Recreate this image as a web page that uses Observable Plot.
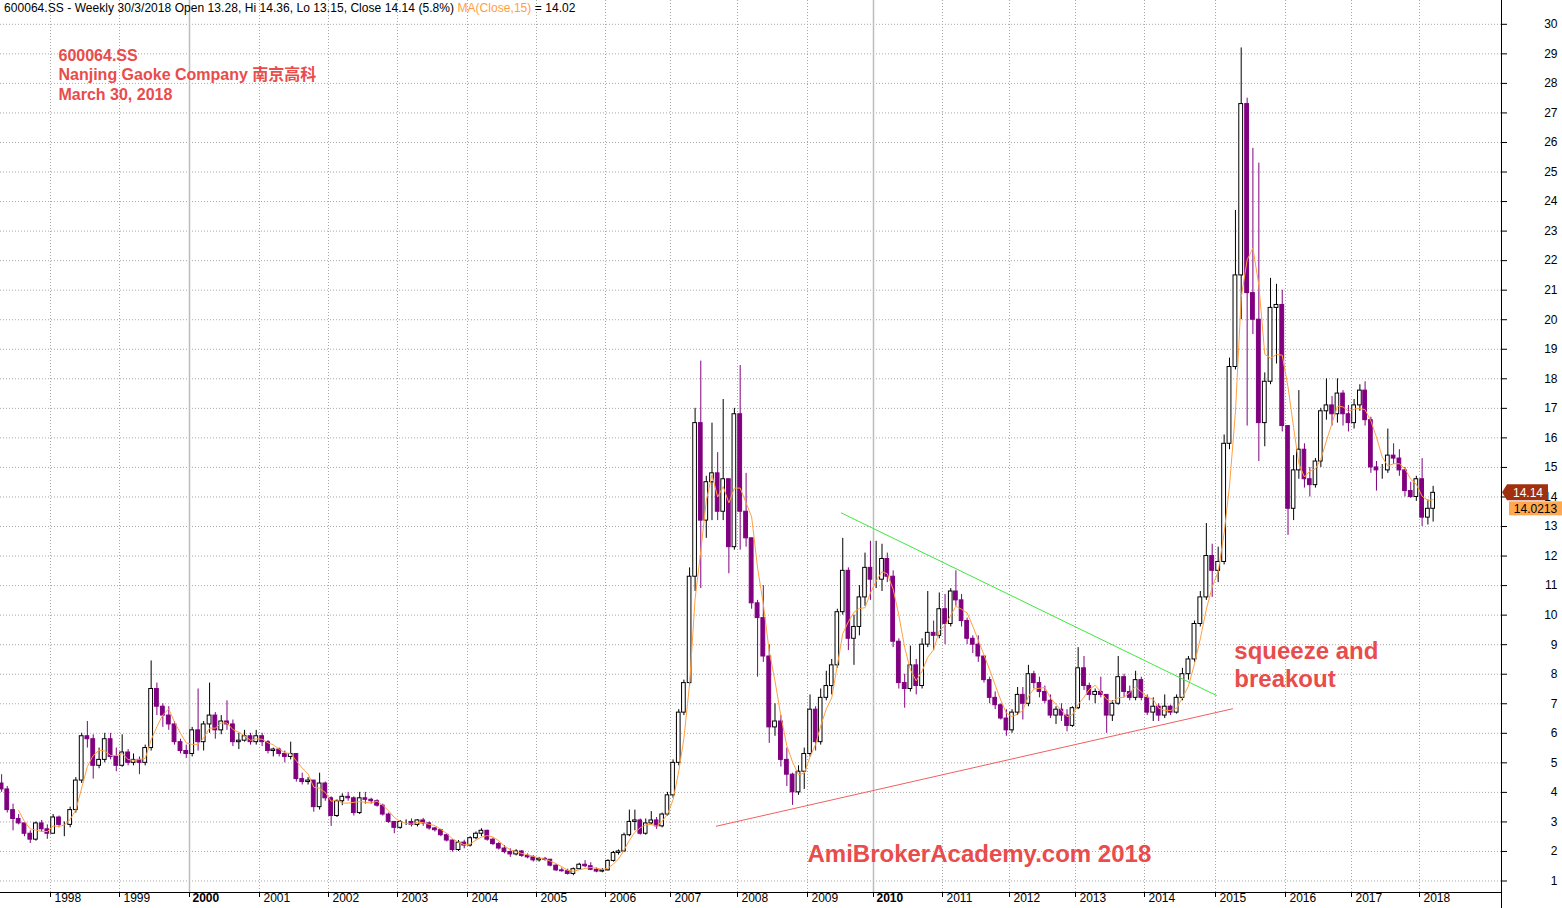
<!DOCTYPE html>
<html><head><meta charset="utf-8">
<script src="https://cdn.jsdelivr.net/npm/d3@7"></script>
<script src="https://cdn.jsdelivr.net/npm/@observablehq/plot@0.6"></script>
<style>
html,body{margin:0;padding:0;background:#fff;overflow:hidden;}
#wrap{position:relative;width:1562px;height:908px;overflow:hidden;}
#hdr{position:absolute;left:4px;top:1px;font:12px/14px "Liberation Sans",Arial,sans-serif;color:#000;white-space:nowrap;letter-spacing:0.05px;}
#hdr .ma{color:#ffa040;}
</style></head><body>
<div id="wrap"><div id="hdr"></div></div>
<script>
// ---------------- DATA (monthly candles: [open, high, low, close]) ----------------
const symbol = "600064.SS";
const firstYear = 1997, firstMonth = 3; // April 1997 (0-based month)
const ohlc1997 = [[4.3,4.6,4.0,4.1],[4.1,4.2,3.3,3.4],[3.4,3.6,2.7,3.1],[3.1,3.25,2.9,2.95],[2.95,2.95,2.5,2.6],[2.6,2.7,2.27,2.4],[2.4,3.0,2.35,2.95],[2.95,3.05,2.65,2.75],[2.75,2.9,2.41,2.6]];
const ohlc1998 = [[2.6,3.25,2.6,3.15],[3.15,3.2,2.8,2.9],[2.9,3.0,2.5,2.9],[2.9,3.5,2.8,3.4],[3.4,4.5,3.3,4.4],[4.4,6.0,4.3,5.9],[5.9,6.4,5.5,5.8],[5.8,5.95,4.45,4.9],[4.9,5.5,4.8,5.1],[5.1,6.0,5.0,5.8],[5.8,6.0,5.1,5.2],[5.2,5.5,4.7,4.9]];
const ohlc1999 = [[4.9,5.95,4.85,5.35],[5.35,5.45,4.9,5.0],[5.0,5.3,4.9,5.1],[5.1,5.2,4.6,5.0],[5.0,5.6,4.9,5.5],[5.5,8.45,5.4,7.5],[7.5,7.7,6.6,6.9],[6.9,7.0,6.2,6.6],[6.6,6.9,6.1,6.3],[6.3,6.4,5.6,5.7],[5.7,5.8,5.3,5.4],[5.4,5.6,5.15,5.3]];
const ohlc2000 = [[5.3,6.2,5.2,6.1],[6.1,7.5,5.4,5.7],[5.7,6.4,5.4,6.3],[6.3,7.7,6.0,6.6],[6.6,6.7,5.8,6.1],[6.1,6.6,5.95,6.4],[6.4,7.1,6.1,6.3],[6.3,6.45,5.55,5.7],[5.7,6.0,5.45,5.75],[5.75,6.1,5.7,5.9],[5.9,6.0,5.6,5.7],[5.7,6.1,5.6,5.9]];
const ohlc2001 = [[5.9,6.0,5.55,5.7],[5.7,5.75,5.3,5.4],[5.4,5.5,5.2,5.45],[5.45,5.5,5.2,5.3],[5.3,5.4,5.0,5.2],[5.2,5.7,5.1,5.3],[5.3,5.3,4.35,4.45],[4.45,4.65,4.25,4.35],[4.35,4.5,4.25,4.4],[4.4,4.4,3.33,3.5],[3.5,4.65,3.4,4.3],[4.3,4.35,3.7,3.8]];
const ohlc2002 = [[3.8,3.85,2.85,3.2],[3.2,3.75,3.15,3.7],[3.7,3.95,3.55,3.85],[3.85,4.0,3.7,3.8],[3.8,3.85,3.2,3.3],[3.3,4.0,3.25,3.8],[3.8,4.0,3.6,3.75],[3.75,3.8,3.6,3.7],[3.7,3.75,3.5,3.55],[3.55,3.6,3.2,3.25],[3.25,3.3,2.95,3.0],[3.0,3.0,2.6,2.8]];
const ohlc2003 = [[2.8,3.05,2.75,3.0],[3.0,3.07,2.88,3.0],[3.0,3.1,2.83,2.9],[2.9,3.08,2.83,3.05],[3.05,3.12,2.85,2.95],[2.95,3.0,2.72,2.78],[2.78,2.82,2.66,2.72],[2.72,2.75,2.5,2.55],[2.55,2.6,2.32,2.37],[2.37,2.4,1.98,2.05],[2.05,2.37,2.0,2.3],[2.3,2.38,2.09,2.2]];
const ohlc2004 = [[2.2,2.5,2.15,2.45],[2.45,2.66,2.4,2.6],[2.6,2.77,2.5,2.7],[2.7,2.72,2.35,2.4],[2.4,2.45,2.2,2.25],[2.25,2.3,2.05,2.1],[2.1,2.2,1.92,1.98],[1.98,2.09,1.8,1.9],[1.9,2.06,1.85,2.0],[2.0,2.03,1.8,1.85],[1.85,1.92,1.75,1.8],[1.8,1.86,1.64,1.7]];
const ohlc2005 = [[1.7,1.8,1.64,1.75],[1.75,1.8,1.67,1.72],[1.72,1.73,1.48,1.52],[1.52,1.55,1.32,1.36],[1.36,1.44,1.3,1.33],[1.33,1.4,1.2,1.24],[1.24,1.44,1.18,1.4],[1.4,1.6,1.38,1.55],[1.55,1.69,1.45,1.5],[1.5,1.62,1.35,1.38],[1.38,1.44,1.28,1.32],[1.32,1.42,1.28,1.36]];
const ohlc2006 = [[1.36,1.72,1.34,1.68],[1.68,2.0,1.64,1.95],[1.95,2.05,1.88,2.0],[2.0,2.62,1.98,2.55],[2.55,3.4,2.5,3.0],[3.0,3.4,2.7,3.05],[3.05,3.1,2.55,2.6],[2.6,3.1,2.55,2.95],[2.95,3.35,2.9,3.05],[3.05,3.15,2.75,2.85],[2.85,3.3,2.8,3.25],[3.25,4.0,3.2,3.9]];
const ohlc2007 = [[3.9,5.1,3.8,5.0],[5.0,6.8,4.9,6.7],[6.7,7.8,6.6,7.7],[7.7,11.6,7.6,11.3],[11.3,17.0,10.8,16.5],[16.5,18.6,10.9,13.2],[13.2,14.7,12.6,14.5],[14.5,16.5,13.2,14.8],[14.8,15.5,13.2,13.5],[13.5,17.3,13.2,14.6],[14.6,14.6,11.4,12.3],[12.3,17.0,12.2,16.8]];
const ohlc2008 = [[16.8,18.45,12.2,13.5],[13.5,14.8,12.3,12.6],[12.6,12.6,10.2,10.4],[10.4,10.5,7.9,9.9],[9.9,11.0,8.4,8.6],[8.6,9.0,5.66,6.2],[6.2,7.0,5.9,6.4],[6.4,6.6,4.86,5.1],[5.1,5.5,4.2,4.6],[4.6,4.65,3.56,4.0],[4.0,4.9,3.9,4.7],[4.7,5.5,4.1,5.3]];
const ohlc2009 = [[5.3,7.3,5.2,6.8],[6.8,6.9,5.4,5.7],[5.7,7.5,5.6,7.2],[7.2,8.1,7.1,7.6],[7.6,8.5,7.3,8.3],[8.3,10.2,8.2,10.1],[10.1,12.6,10.0,11.5],[11.5,11.6,8.8,9.2],[9.2,10.0,8.3,9.6],[9.6,11.0,9.3,10.6],[10.6,12.1,10.3,11.6],[11.6,12.5,10.5,11.2]];
const ohlc2010 = [[11.2,12.5,10.9,11.2],[11.2,12.4,10.8,11.9],[11.9,12.1,11.1,11.3],[11.3,11.5,8.9,9.1],[9.1,9.2,7.5,7.7],[7.7,8.0,6.85,7.5],[7.5,8.95,7.4,8.3],[8.3,8.5,7.3,7.6],[7.6,9.2,7.5,9.0],[9.0,10.8,8.9,9.4],[9.4,9.8,8.8,9.3],[9.3,10.75,9.2,10.2]];
const ohlc2011 = [[10.2,10.7,9.0,9.7],[9.7,10.9,9.6,10.8],[10.8,11.5,10.3,10.5],[10.5,10.7,9.6,9.8],[9.8,9.9,9.0,9.2],[9.2,9.3,8.7,9.0],[9.0,9.3,8.4,8.6],[8.6,8.6,7.7,7.8],[7.8,7.9,7.0,7.2],[7.2,7.4,6.8,6.95],[6.95,7.0,6.45,6.5],[6.5,6.8,5.9,6.1]];
const ohlc2012 = [[6.1,6.8,6.0,6.7],[6.7,7.55,6.6,7.3],[7.3,7.55,6.45,7.0],[7.0,8.3,6.9,8.0],[8.0,8.1,7.5,7.7],[7.7,7.9,7.2,7.4],[7.4,7.6,7.0,7.1],[7.1,7.3,6.5,6.6],[6.6,6.9,6.3,6.8],[6.8,7.0,6.4,6.6],[6.6,6.8,6.05,6.25],[6.25,6.9,6.2,6.85]];
const ohlc2013 = [[6.85,8.9,6.8,8.2],[8.2,8.6,7.45,7.6],[7.6,7.7,7.1,7.3],[7.3,7.5,7.0,7.4],[7.4,7.9,7.2,7.3],[7.3,7.3,6.0,6.6],[6.6,7.1,6.4,7.0],[7.0,8.6,6.95,7.9],[7.9,8.0,7.2,7.4],[7.4,7.6,7.1,7.2],[7.2,8.1,7.1,7.8],[7.8,7.9,7.1,7.2]];
const ohlc2014 = [[7.2,7.3,6.6,6.7],[6.7,7.2,6.4,6.9],[6.9,7.0,6.4,6.6],[6.6,7.3,6.5,6.9],[6.9,6.95,6.6,6.7],[6.7,7.3,6.65,7.2],[7.2,8.2,7.1,8.0],[8.0,8.6,7.8,8.5],[8.5,9.8,8.4,9.7],[9.7,10.8,9.6,10.6],[10.6,13.1,10.5,12.0],[12.0,12.4,10.6,11.5]];
const ohlc2015 = [[11.5,12.3,11.1,11.8],[11.8,16.1,11.7,15.8],[15.8,18.7,15.6,18.4],[18.4,23.7,18.3,21.5],[21.5,29.2,20.0,27.3],[27.3,27.5,16.4,20.9],[20.9,25.8,19.5,20.0],[20.0,25.3,15.2,16.5],[16.5,18.2,15.7,17.9],[17.9,21.4,17.8,20.4],[20.4,21.2,18.5,20.5],[20.5,21.0,16.2,16.4]];
const ohlc2016 = [[16.4,16.4,12.7,13.6],[13.6,15.4,13.2,14.9],[14.9,17.6,14.6,15.6],[15.6,15.8,14.3,14.6],[14.6,15.0,14.0,14.4],[14.4,15.3,14.3,15.2],[15.2,17.0,15.0,16.9],[16.9,18.0,16.6,17.1],[17.1,17.4,16.4,16.8],[16.8,18.0,16.5,17.5],[17.5,17.6,16.4,16.8],[16.8,17.1,16.2,16.5]];
const ohlc2017 = [[16.5,17.3,16.3,17.1],[17.1,17.8,16.9,17.6],[17.6,17.9,16.4,16.6],[16.6,16.7,14.8,15.0],[15.0,15.2,14.2,14.9],[14.9,15.1,14.6,14.9],[14.9,16.3,14.8,15.4],[15.4,15.8,15.1,15.3],[15.3,15.6,14.7,14.9],[14.9,15.0,14.0,14.2],[14.2,14.5,13.95,14.0],[14.0,14.7,13.85,14.6]];
const ohlc2018 = [[14.6,15.3,13.0,13.3],[13.3,13.9,13.05,13.6],[13.6,14.36,13.15,14.14]];

// last weekly bar and indicator value shown in the header and price tags
const lastWeek = {date: "30/3/2018", open: 13.28, high: 14.36, low: 13.15, close: 14.14, change: 5.8};
const maLast = 14.0213;

// trend lines (date, price)
const greenLine = [{date: "2009-07-07", value: 13.46}, {date: "2015-01-06", value: 7.28}];
const redLine = [{date: "2007-09-08", value: 2.855}, {date: "2015-03-31", value: 6.83}];

// text
const titleLines = ["600064.SS", "Nanjing Gaoke Company 南京高科", "March 30, 2018"];
const notes = [
  {date: "2015-04-09", value: 8.33, label: "squeeze and\nbreakout"},
  {date: "2009-01-01", value: 1.94, label: "AmiBrokerAcademy.com 2018"}
];
const yTicks = d3.range(1, 31);
const tickYears = d3.range(1998, 2019);
const boldYears = [2000, 2010];

// ---------------- LAYOUT / STYLE ----------------
const W = 1562, H = 908;
const FONT = '"Liberation Sans", Arial, "Noto Sans CJK SC", sans-serif';
const PURPLE = "#800080", ORANGE = "#ffa040", RED = "#e84c4c", GRID = "#a8a8a8";
// AmiBroker places year starts at these pixels (bars are evenly spaced)
const tickPx = [50,119,189,259,328,397,467,536,605,670,737,807,873,942,1009,1075,1144,1215,1285,1351,1419];
const yearDate = y => new Date(Date.UTC(y, 0, 1));
const xDomain = [new Date(Date.UTC(1997,3,9)), ...tickYears.map(yearDate), new Date(Date.UTC(2019,2,16))];
const xRange = [0, ...tickPx, 1501];

// ---------------- BUILD ----------------
const candles = [ohlc1997,ohlc1998,ohlc1999,ohlc2000,ohlc2001,ohlc2002,ohlc2003,ohlc2004,ohlc2005,ohlc2006,ohlc2007,ohlc2008,ohlc2009,ohlc2010,ohlc2011,ohlc2012,ohlc2013,ohlc2014,ohlc2015,ohlc2016,ohlc2017,ohlc2018]
  .flat()
  .map(([open, high, low, close], i) => ({date: new Date(Date.UTC(firstYear, firstMonth + i, 15)), open, high, low, close}));
const up = candles.filter(d => d.close >= d.open);
const down = candles.filter(d => d.close < d.open);
const DAY = 864e5, HALF = 10 * DAY;
const parse = s => new Date(s + "T00:00:00Z");
greenLine.forEach(d => d.date = parse(d.date));
redLine.forEach(d => d.date = parse(d.date));
notes.forEach(d => d.date = parse(d.date));

const normalYearDates = tickYears.filter(y => !boldYears.includes(y)).map(yearDate);
const boldYearDates = boldYears.map(yearDate);

function chrome(index, scales, values, dims) {
  const g = d3.create("svg:g").attr("font-family", FONT).attr("font-size", 12);
  const xr = dims.width - dims.marginRight;
  const yb = dims.height - dims.marginBottom;
  g.append("line").attr("x1", 0).attr("x2", xr).attr("y1", yb + 0.5).attr("y2", yb + 0.5).attr("stroke", "#000");
  g.append("line").attr("x1", xr + 0.5).attr("x2", xr + 0.5).attr("y1", 0).attr("y2", dims.height).attr("stroke", "#000");
  const yc = scales.y(lastWeek.close);
  g.append("path").attr("d", `M${xr + 1},${yc} L${xr + 6},${yc - 8} H${xr + 47} V${yc + 8} H${xr + 6} Z`).attr("fill", "#a0300f");
  g.append("text").attr("x", xr + 27).attr("y", yc).attr("dy", "0.35em").attr("text-anchor", "middle").attr("fill", "#fff").text(lastWeek.close.toFixed(2));
  const ym = Math.max(scales.y(maLast), yc + 16);
  g.append("rect").attr("x", xr + 8).attr("y", ym - 7).attr("width", 54).attr("height", 14).attr("fill", "#ffa850");
  g.append("text").attr("x", xr + 34.5).attr("y", ym).attr("dy", "0.35em").attr("text-anchor", "middle").attr("fill", "#000").text(maLast.toFixed(4));
  return g.node();
}

const chart = Plot.plot({
  width: W, height: H,
  marginLeft: 0, marginRight: 61, marginTop: 0, marginBottom: 16,
  style: {fontFamily: FONT, fontSize: "12px", background: "#fff", overflow: "visible"},
  x: {type: "utc", domain: xDomain, range: xRange, axis: null, label: null},
  y: {type: "linear", domain: [0.611, 30.806], axis: null, label: null},
  marks: [
    Plot.ruleY(yTicks, {y: d => d, stroke: GRID, strokeDasharray: "1,2"}),
    Plot.ruleX(normalYearDates, {x: d => d, stroke: GRID, strokeDasharray: "1,2"}),
    Plot.ruleX(boldYearDates, {x: d => d, stroke: "#bdbdbd", strokeWidth: 1.5}),
    Plot.ruleX(up, {x: "date", y1: "low", y2: "high", stroke: "#000"}),
    Plot.ruleX(down, {x: "date", y1: "low", y2: "high", stroke: PURPLE}),
    Plot.rect(up, {x1: d => new Date(+d.date - HALF), x2: d => new Date(+d.date + HALF), y1: "open", y2: "close", fill: "#fff", stroke: "#000"}),
    Plot.rect(down, {x1: d => new Date(+d.date - HALF), x2: d => new Date(+d.date + HALF), y1: "open", y2: "close", fill: PURPLE, stroke: PURPLE}),
    Plot.lineY(candles, Plot.windowY({k: 4, anchor: "end", strict: true}, {x: "date", y: "close", stroke: ORANGE, strokeWidth: 1})),
    Plot.line(greenLine, {x: "date", y: "value", stroke: "#3ee83e", strokeWidth: 1}),
    Plot.line(redLine, {x: "date", y: "value", stroke: "#f06060", strokeWidth: 1}),
    Plot.axisX(tickYears.map(yearDate), {anchor: "bottom", tickSize: 5, tickFormat: () => "", label: null, stroke: "#000"}),
    Plot.axisY(yTicks, {anchor: "right", tickSize: 5, tickFormat: () => "", label: null, stroke: "#000"}),
    Plot.text(normalYearDates, {x: d => d, text: d => String(d.getUTCFullYear()), frameAnchor: "bottom", dy: 9, dx: 4, textAnchor: "start", fontSize: 12, fill: "#000"}),
    Plot.text(boldYearDates, {x: d => d, text: d => String(d.getUTCFullYear()), frameAnchor: "bottom", dy: 9, dx: 3, textAnchor: "start", fontSize: 12, fontWeight: "bold", fill: "#000"}),
    Plot.text(yTicks, {y: d => d, text: d => String(d), frameAnchor: "right", dx: 56, textAnchor: "end", fontSize: 12, fill: "#000"}),
    Plot.text([titleLines.join("\n")], {text: d => d, frameAnchor: "top-left", dx: 58, dy: 46.6, lineAnchor: "top", lineHeight: 1.22, textAnchor: "start", fontSize: 16, fontWeight: "bold", fill: RED}),
    Plot.text(notes, {x: "date", y: "value", text: "label", textAnchor: "start", lineHeight: 1.1667, fontSize: 24, fontWeight: "bold", fill: RED}),
    chrome
  ]
});
document.getElementById("wrap").appendChild(chart);
document.getElementById("hdr").innerHTML =
  `${symbol} - Weekly ${lastWeek.date} Open ${lastWeek.open.toFixed(2)}, Hi ${lastWeek.high.toFixed(2)}, Lo ${lastWeek.low.toFixed(2)}, Close ${lastWeek.close.toFixed(2)} (${lastWeek.change.toFixed(1)}%) <span class="ma">MA(Close,15)</span> = ${maLast.toFixed(2)}`;
</script></body></html>
